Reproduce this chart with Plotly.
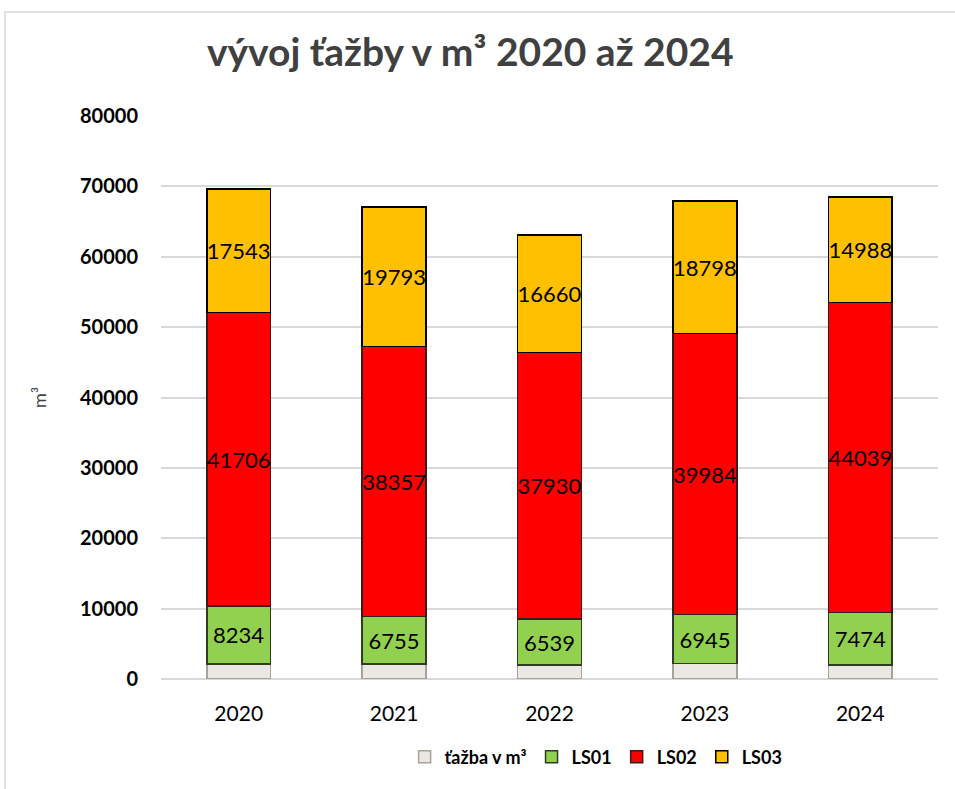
import plotly.graph_objects as go

years = ["2020", "2021", "2022", "2023", "2024"]
tazba = [2140, 2160, 1960, 2190, 1990]
ls01 = [8234, 6755, 6539, 6945, 7474]
ls02 = [41706, 38357, 37930, 39984, 44039]
ls03 = [17543, 19793, 16660, 18798, 14988]

FONT = "Lato, 'Open Sans', sans-serif"

fig = go.Figure()
fig.add_trace(go.Bar(
    x=years, y=tazba, name="ťažba v m³",
    marker=dict(color="#ebe8e3", line=dict(color="#a7a39b", width=1.5)),
    hoverinfo="y",
))
series = [
    ("LS01", ls01, "#92d050", "#2f3b22"),
    ("LS02", ls02, "#ff0000", "#3a1a1a"),
    ("LS03", ls03, "#ffc000", "#000000"),
]
for name, vals, fill, edge in series:
    fig.add_trace(go.Bar(
        x=years, y=vals, name=name,
        marker=dict(color=fill, line=dict(color=edge, width=1.5)),
        text=[str(v) for v in vals], texttemplate="%{text}",
        textposition="inside", insidetextanchor="middle", textangle=0,
        constraintext="none", cliponaxis=False,
        textfont=dict(family=FONT, size=22, color="#000000"),
    ))

fig.update_layout(
    barmode="stack", bargap=0.59,
    width=955, height=789,
    margin=dict(l=161, r=17, t=116, b=110),
    paper_bgcolor="white", plot_bgcolor="white",
    title=dict(text="<b>vývoj ťažby v m³ 2020 až 2024</b>", x=0.398, xanchor="center",
               y=1 - 52 / 789, yanchor="middle", xref="paper",
               font=dict(family=FONT, size=39, color="#404040")),
    legend=dict(orientation="h", x=0.56, xanchor="center", y=-0.1385, yanchor="middle",
                font=dict(family=FONT, size=18, color="#000000", weight="bold"),
                itemwidth=30, traceorder="normal"),
    showlegend=True,
    shapes=[dict(type="rect", xref="paper", yref="paper", x0=-0.2008, x1=1.1, y0=-0.3, y1=1.1847,
                 line=dict(color="#d9d9d9", width=1.5), fillcolor="rgba(0,0,0,0)", layer="below")],
)
fig.update_yaxes(range=[0, 80000], dtick=10000, tickformat="d",
                 showgrid=True, gridcolor="#d9d9d9", gridwidth=1.5,
                 zeroline=True, zerolinecolor="#d9d9d9", zerolinewidth=1.5,
                 ticks="", ticklen=0, ticklabelstandoff=22,
                 tickfont=dict(family=FONT, size=20, color="#000000", weight="bold"),
                 title=dict(text="m³", standoff=28, font=dict(family=FONT, size=18, color="#404040")))
fig.update_xaxes(showgrid=False, showline=False, ticks="", ticklabelstandoff=20,
                 tickfont=dict(family=FONT, size=21, color="#000000"))

fig.write_html("out.html", config={"displayModeBar": False},
               post_script="document.body.style.margin='0';")
